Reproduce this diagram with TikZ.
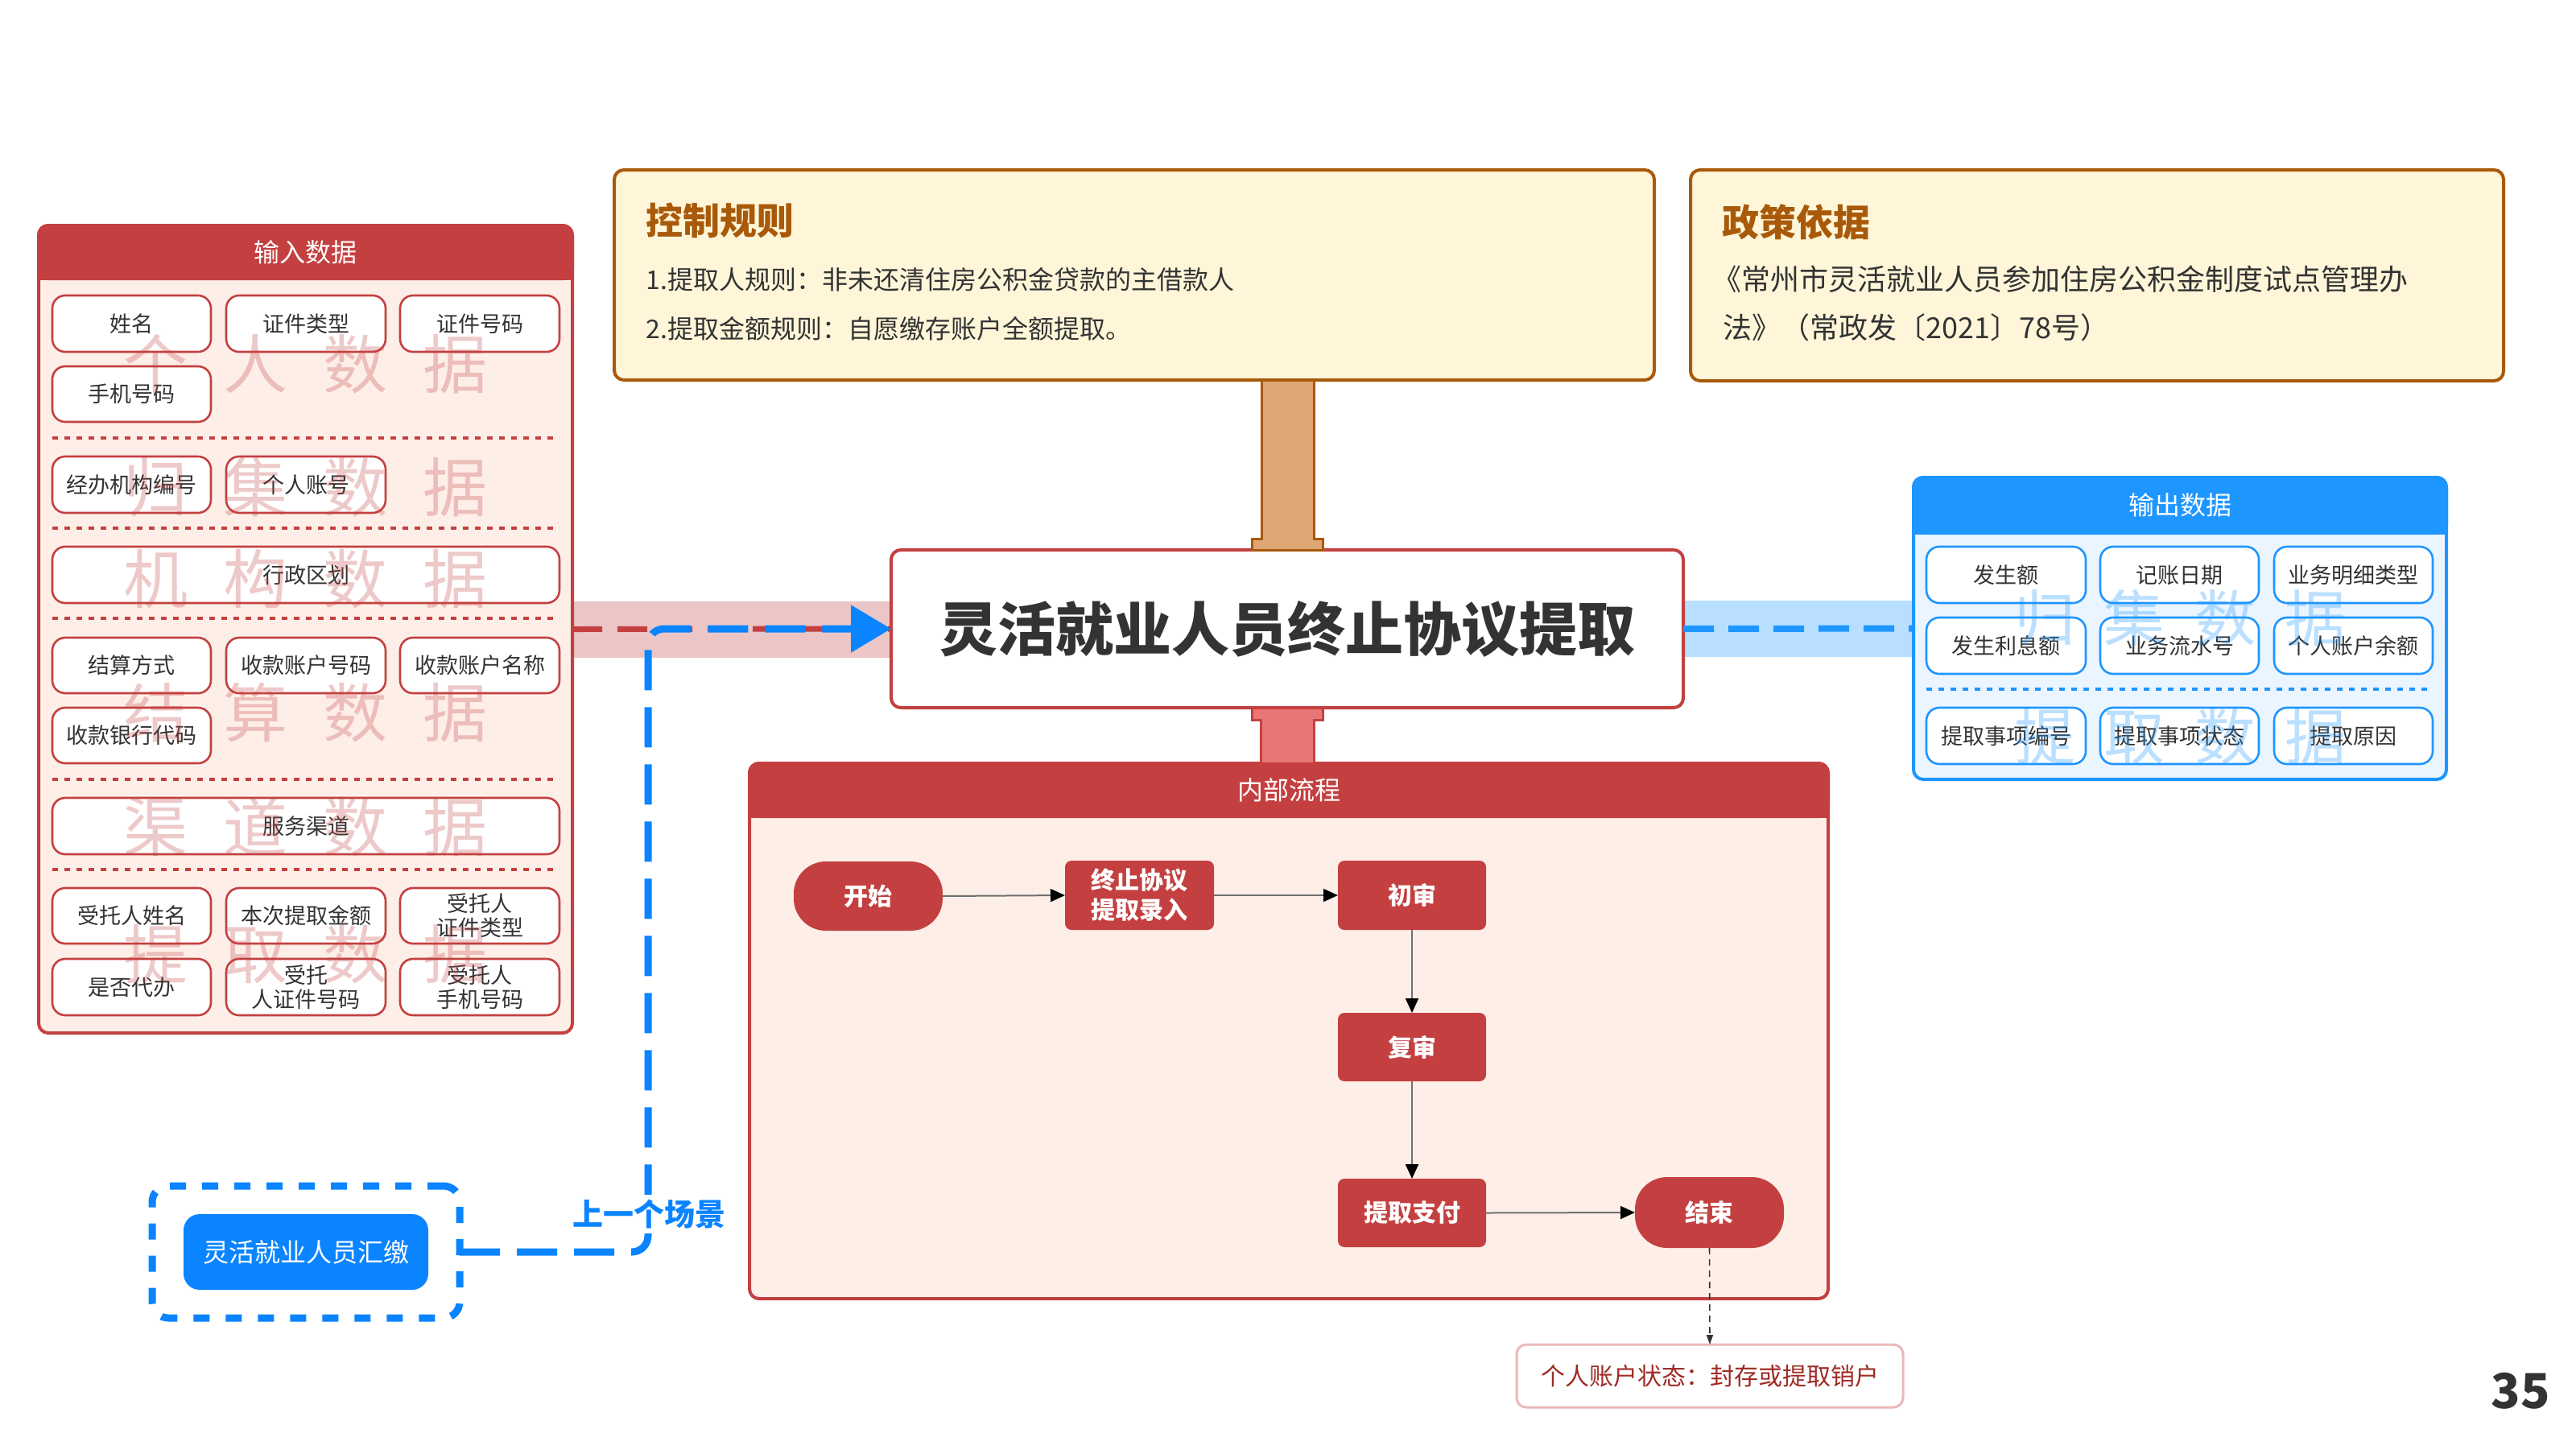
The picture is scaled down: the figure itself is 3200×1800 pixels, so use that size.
\documentclass[tikz,border=0pt]{standalone}
\usepackage{fontspec}
\setmainfont{Noto Sans CJK SC}
\usetikzlibrary{arrows.meta,calc}
\definecolor{cred}{HTML}{C44040}
\definecolor{cpink}{HTML}{FDEEE8}
\definecolor{cband}{HTML}{ECC6C6}
\definecolor{cblue}{HTML}{1E96FF}
\definecolor{cblueb}{HTML}{EBF5FF}
\definecolor{cbband}{HTML}{B8DFFF}
\definecolor{cbtn}{HTML}{0A84FF}
\definecolor{ccream}{HTML}{FFF6D9}
\definecolor{cbrown}{HTML}{A85A0A}
\definecolor{corange}{HTML}{DDA673}
\definecolor{csalmon}{HTML}{E87676}
\definecolor{ctext}{HTML}{333333}
\definecolor{cstat}{HTML}{9E2B25}
\definecolor{cstatb}{HTML}{EBB8B8}
\definecolor{cgray}{HTML}{707070}
\newcommand\bx[7]{\node[#1,minimum width={(#5-#3)*0.5pt},minimum height={(#6-#4)*0.5pt}] (#2) at ({(#3+#5)/2},{(#4+#6)/2}) {#7};}
\tikzset{
  fb/.style={inner sep=0pt,outer sep=0pt},
  inbody/.style={fb,draw=cred,fill=cpink,line width=2pt,rounded corners=6pt},
  inhead/.style={fb,draw=cred,fill=cred,line width=2pt,rounded corners=6pt,text=white,font=\fontsize{16}{18}\selectfont},
  inbox/.style={fb,draw=cred,fill=white,line width=1.3pt,rounded corners=8pt,text=ctext,align=center,font=\fontsize{13.5}{15}\selectfont},
  insep/.style={draw=cred,line width=2pt,dash pattern=on 3.5pt off 4pt},
  wmred/.style={text=cred,text opacity=0.28,font=\fontsize{40}{40}\selectfont,inner sep=0pt},
  outbody/.style={fb,draw=cblue,fill=cblueb,line width=2pt,rounded corners=6pt},
  outhead/.style={fb,draw=cblue,fill=cblue,line width=2pt,rounded corners=6pt,text=white,font=\fontsize{16}{18}\selectfont},
  outbox/.style={fb,draw=cblue,fill=white,line width=1.3pt,rounded corners=8pt,text=ctext,align=center,font=\fontsize{13.5}{15}\selectfont},
  outsep/.style={draw=cblue,line width=2pt,dash pattern=on 3.5pt off 4pt},
  wmblue/.style={text=cblue,text opacity=0.3,font=\fontsize{38}{38}\selectfont,inner sep=0pt},
  rulebox/.style={fb,draw=cbrown,fill=ccream,line width=2pt,rounded corners=6pt},
  ruletitle/.style={anchor=west,inner sep=0pt,text=cbrown,font=\bfseries\fontsize{23}{23}\selectfont},
  ruletext/.style={anchor=west,inner sep=0pt,text=ctext,font=\fontsize{16}{16}\selectfont},
  poltext/.style={anchor=west,inner sep=0pt,text=ctext,font=\fontsize{18}{18}\selectfont},
  mainbox/.style={fb,draw=cred,fill=white,line width=2pt,rounded corners=6pt,text=ctext,font=\bfseries\fontsize{36}{36}\selectfont},
  pnode/.style={fb,fill=cred,rounded corners=4pt,text=white,align=center,font=\bfseries\fontsize{15}{18.5}\selectfont},
  pround/.style={pnode,rounded corners=20pt},
  parrow/.style={draw=cgray,line width=1pt,-{Triangle[length=9pt,width=8pt,color=black]}},
  dasharrow/.style={draw=ctext,line width=0.8pt,dash pattern=on 4pt off 3pt,-{Triangle[length=6pt,width=4pt]}},
  statbox/.style={fb,draw=cstatb,fill=white,line width=1.5pt,rounded corners=6pt,text=cstat,font=\fontsize{15}{15}\selectfont},
  reddash/.style={draw=cred,line width=3.5pt,dash pattern=on 18.5pt off 9.5pt},
  bluedash/.style={draw=cblue,line width=4pt,dash pattern=on 19pt off 9pt},
  bluearrow/.style={draw=cbtn,line width=4.5pt,dash pattern=on 25pt off 10.5pt,rounded corners=10pt,-{Triangle[length=25pt,width=28.5pt]}},
  outerdash/.style={fb,draw=cbtn,line width=4.5pt,dash pattern=on 10pt off 10pt,rounded corners=10pt},
  btn/.style={fb,fill=cbtn,rounded corners=10pt,text=white,font=\fontsize{16}{16}\selectfont},
  oconn/.style={draw=cbrown,fill=corange,line width=1.5pt},
  pconn/.style={draw=cred,fill=csalmon,line width=1.5pt}
}
\begin{document}
\begin{tikzpicture}[x=0.5pt,y=-0.5pt]
\useasboundingbox (0,0) rectangle (3200,1800);
\fill[white] (0,0) rectangle (3200,1800);

% bands
\fill[cband] (711,747) rectangle (1107,817);
\fill[cbband] (2091,746) rectangle (2377,816);

% ===== input panel =====
\bx{inbody}{inp}{48}{280}{711}{1283}{}
\bx{inhead}{inph}{48}{280}{711}{346}{}
\fill[cred] (46,332) rectangle (713,348);
\node[text=white,font=\fontsize{16}{18}\selectfont] (inpt) at (inph.center) {输入数据};
\bx{inbox}{i1}{65}{367}{262}{437}{姓名}
\bx{inbox}{i2}{281}{367}{479}{437}{证件类型}
\bx{inbox}{i3}{497}{367}{695}{437}{证件号码}
\bx{inbox}{i4}{65}{455}{262}{524}{手机号码}
\draw[insep] (65,544) -- (695,544);
\bx{inbox}{i5}{65}{567}{262}{637}{经办机构编号}
\bx{inbox}{i6}{281}{567}{479}{637}{个人账号}
\draw[insep] (65,656) -- (695,656);
\bx{inbox}{i7}{65}{679}{695}{749}{行政区划}
\draw[insep] (65,768) -- (695,768);
\bx{inbox}{i8}{65}{792}{262}{861}{结算方式}
\bx{inbox}{i9}{281}{792}{479}{861}{收款账户号码}
\bx{inbox}{i10}{497}{792}{695}{861}{收款账户名称}
\bx{inbox}{i11}{65}{879}{262}{948}{收款银行代码}
\draw[insep] (65,968) -- (695,968);
\bx{inbox}{i12}{65}{991}{695}{1061}{服务渠道}
\draw[insep] (65,1080) -- (695,1080);
\bx{inbox}{i13}{65}{1103}{262}{1172}{受托人姓名}
\bx{inbox}{i14}{281}{1103}{479}{1172}{本次提取金额}
\bx{inbox}{i15}{497}{1103}{695}{1172}{受托人\\证件类型}
\bx{inbox}{i16}{65}{1191}{262}{1261}{是否代办}
\bx{inbox}{i17}{281}{1191}{479}{1261}{受托\\人证件号码}
\bx{inbox}{i18}{497}{1191}{695}{1261}{受托人\\手机号码}
\node[wmred] (w1) at (379,452) {个\hspace{22pt}人\hspace{22pt}数\hspace{22pt}据};
\node[wmred] (w2) at (379,605) {归\hspace{22pt}集\hspace{22pt}数\hspace{22pt}据};
\node[wmred] (w3) at (379,719) {机\hspace{22pt}构\hspace{22pt}数\hspace{22pt}据};
\node[wmred] (w4) at (379,885) {结\hspace{22pt}算\hspace{22pt}数\hspace{22pt}据};
\node[wmred] (w5) at (379,1027) {渠\hspace{22pt}道\hspace{22pt}数\hspace{22pt}据};
\node[wmred] (w6) at (379,1185) {提\hspace{22pt}取\hspace{22pt}数\hspace{22pt}据};

% ===== output panel =====
\bx{outbody}{out}{2377}{593}{3039}{968}{}
\bx{outhead}{outh}{2377}{593}{3039}{662}{}
\fill[cblue] (2375,646) rectangle (3041,664);
\node[text=white,font=\fontsize{16}{18}\selectfont] (outt) at (outh.center) {输出数据};
\bx{outbox}{o1}{2393}{679}{2591}{749}{发生额}
\bx{outbox}{o2}{2609}{679}{2806}{749}{记账日期}
\bx{outbox}{o3}{2825}{679}{3022}{749}{业务明细类型}
\bx{outbox}{o4}{2393}{767}{2591}{837}{发生利息额}
\bx{outbox}{o5}{2609}{767}{2806}{837}{业务流水号}
\bx{outbox}{o6}{2825}{767}{3022}{837}{个人账户余额}
\draw[outsep] (2393,856) -- (3022,856);
\bx{outbox}{o7}{2393}{879}{2591}{949}{提取事项编号}
\bx{outbox}{o8}{2609}{879}{2806}{949}{提取事项状态}
\bx{outbox}{o9}{2825}{879}{3022}{949}{提取原因}
\node[wmblue] (w7) at (2708,768) {归\hspace{18pt}集\hspace{18pt}数\hspace{18pt}据};
\node[wmblue] (w8) at (2708,915) {提\hspace{18pt}取\hspace{18pt}数\hspace{18pt}据};

% ===== rule boxes =====
\bx{rulebox}{ctrl}{763}{211}{2055}{472}{}
\node[ruletitle] (ctrlt) at (802,274) {控制规则};
\node[ruletext] (ctrl1) at (802,347) {1.提取人规则：非未还清住房公积金贷款的主借款人};
\node[ruletext] (ctrl2) at (802,408) {2.提取金额规则：自愿缴存账户全额提取。};
\bx{rulebox}{pol}{2100}{211}{3110}{473}{}
\node[ruletitle] (polt) at (2139,276) {政策依据};
\node[poltext] (pol1) at (2127,347) {《常州市灵活就业人员参加住房公积金制度试点管理办};
\node[poltext] (pol2) at (2140,407) {法》（常政发〔2021〕78号）};

% ===== main box =====
\bx{mainbox}{main}{1107}{683}{2091}{879}{灵活就业人员终止协议提取}

% ===== process panel =====
\bx{inbody}{proc}{931}{948}{2271}{1613}{}
\bx{inhead}{proch}{931}{948}{2271}{1014}{}
\fill[cred] (929,998) rectangle (2273,1016);
\node[text=white,font=\fontsize{16}{18}\selectfont] (proct) at (proch.center) {内部流程};
\bx{pround}{start}{986}{1070}{1171}{1156}{开始}
\bx{pnode}{entry}{1323}{1069}{1508}{1155}{终止协议\\提取录入}
\bx{pnode}{rev1}{1662}{1069}{1846}{1155}{初审}
\bx{pnode}{rev2}{1662}{1258}{1846}{1343}{复审}
\bx{pnode}{pay}{1662}{1464}{1846}{1549}{提取支付}
\bx{pround}{fin}{2031}{1462}{2216}{1550}{结束}
\draw[parrow] (start.east) -- (entry.west);
\draw[parrow] (entry.east) -- (rev1.west);
\draw[parrow] (rev1.south) -- (rev2.north);
\draw[parrow] (rev2.south) -- (pay.north);
\draw[parrow] (pay.east) -- (fin.west);
\bx{statbox}{status}{1884}{1670}{2364}{1748}{个人账户状态：封存或提取销户}
\draw[dasharrow] (fin.south) -- (status.north);

% ===== connectors =====
\coordinate (ct) at (ctrl.south -| main.north);
\draw[oconn] ($(ct)+(-32,0)$) -- ($(main.north)+(-32,-14)$) -- ($(main.north)+(-44,-14)$) -- ($(main.north)+(-44,0)$) -- ($(main.north)+(44,0)$) -- ($(main.north)+(44,-14)$) -- ($(main.north)+(33,-14)$) -- ($(ct)+(33,0)$) -- cycle;
\coordinate (pt) at (proch.north -| main.south);
\draw[pconn] ($(main.south)+(-44,0)$) -- ($(main.south)+(-44,15)$) -- ($(main.south)+(-33,15)$) -- ($(pt)+(-33,0)$) -- ($(pt)+(33,0)$) -- ($(main.south)+(33,15)$) -- ($(main.south)+(44,15)$) -- ($(main.south)+(44,0)$) -- cycle;
\draw[reddash] (inp.east) -- (main.west);
\draw[bluedash] (main.east) -- (out.west);

% ===== previous scene =====
\bx{outerdash}{outer}{189}{1473}{571}{1637}{}
\bx{btn}{prevbtn}{228}{1508}{532}{1602}{灵活就业人员汇缴}
\coordinate (b1) at (805,1555);
\draw[bluearrow] (outer.east) -- (b1) -- (b1 |- main.west) -- (main.west);
\node[fill=white,text=cbtn,inner sep=3pt,font=\bfseries\fontsize{19}{19}\selectfont] (prev) at (806,1508) {上一个场景};

% page number
\node[text=ctext,font=\bfseries\fontsize{30}{30}\selectfont] (pg) at (3131,1728) {35};
\end{tikzpicture}
\end{document}
